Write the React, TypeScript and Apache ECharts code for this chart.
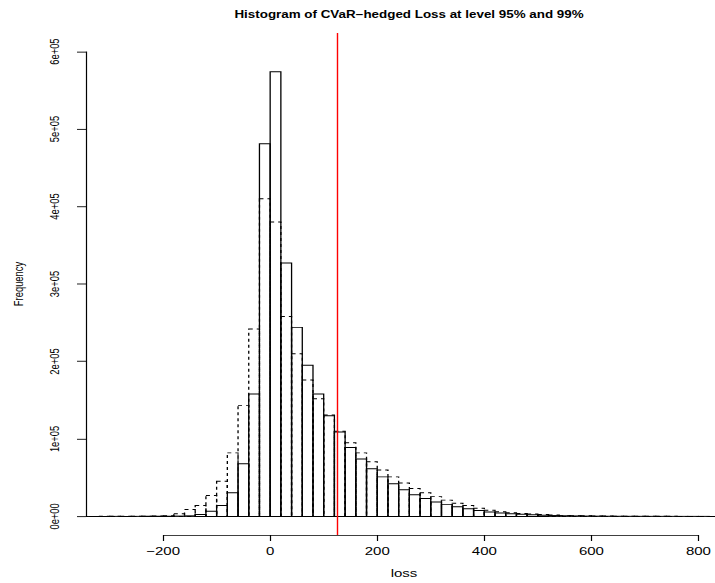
import React, { useEffect, useRef } from "react";
import * as echarts from "echarts";

// Histogram bins (lower edges), width 20
const binStarts = [
  -360, -340, -320, -300, -280, -260, -240, -220, -200, -180, -160, -140, -120, -100, -80, -60, -40, -20,
  0, 20, 40, 60, 80, 100, 120, 140, 160, 180, 200, 220, 240, 260, 280, 300, 320, 340, 360, 380,
  400, 420, 440, 460, 480, 500, 520, 540, 560, 580, 600, 620, 640, 660, 680, 700, 720, 740, 760, 780,
  800, 820, 840,
];
const binWidth = 20;

// Solid histogram counts
const lossA = [
  0, 0, 0, 10, 20, 30, 60, 100, 200, 400, 700, 2500, 6500, 14000, 30500, 68000, 158000, 481000,
  574000, 327000, 244000, 195000, 158000, 130000, 109000, 89000, 74000, 61500, 51000, 42000, 34500, 28000, 23000, 18500, 15500, 12500, 10000, 7500,
  5700, 4500, 3500, 2700, 2000, 1500, 1100, 800, 600, 400, 300, 200, 150, 100, 80, 50, 30, 20, 10, 10,
  5, 0, 0,
];
// Dashed histogram counts
const lossB = [
  0, 20, 40, 60, 100, 150, 250, 500, 1000, 3500, 9000, 14000, 27000, 45500, 82000, 143000, 242000, 410000,
  380000, 258000, 210000, 176000, 152000, 131000, 110000, 95000, 82000, 70500, 60000, 51000, 43000, 36000, 30500, 25500, 21000, 17000, 14000, 10500,
  8000, 6000, 4800, 3800, 3000, 2300, 1800, 1300, 1000, 700, 500, 400, 300, 200, 150, 100, 80, 50, 30, 20,
  10, 10, 0,
];

const xTicks = [-200, 0, 200, 400, 600, 800];
const yTicks = [0, 100000, 200000, 300000, 400000, 500000, 600000];
const xLimits = [-344, 844];
const yLimits = [-24000, 624000];
const cvarLine = 125;

const FONT = "'Liberation Sans', Arial, Helvetica, sans-serif";
const SCALE_Y = 583 / 777;

function fmtX(v: number) {
  return v < 0 ? "\u2212" + Math.abs(v) : String(v);
}
function fmtY(v: number) {
  if (v === 0) return "0e+00";
  const e = Math.floor(Math.log10(v));
  const m = Math.round(v / Math.pow(10, e));
  return `${m}e+${String(e).padStart(2, "0")}`;
}

export default function App() {
  const ref = useRef<HTMLDivElement>(null);
  useEffect(() => {
    const chart = echarts.init(ref.current!, null, { renderer: "svg" });
    const toData = (counts: number[]) => binStarts.map((s, i) => [s, s + binWidth, counts[i]]);
    const renderBar = (dashed: boolean) => (params: any, api: any) => {
      const a = api.coord([api.value(0), 0]);
      const b = api.coord([api.value(1), api.value(2)]);
      return {
        type: "rect",
        shape: { x: a[0], y: b[1], width: b[0] - a[0], height: a[1] - b[1] },
        style: {
          fill: "none",
          stroke: "#000",
          lineWidth: 1.3,
          lineDash: dashed ? [4, 4] : null,
        },
      };
    };
    chart.setOption({
      animation: false,
      backgroundColor: "#fff",
      title: {
        text: "Histogram of CVaR\u2212hedged Loss at level 95% and 99%",
        left: 404,
        top: 7,
        textAlign: "center",
        textStyle: { fontFamily: FONT, fontSize: 13.4, fontWeight: "bold", color: "#000", lineHeight: 15 },
      },
      grid: { left: 86, right: 0, top: 44, bottom: 62.6, containLabel: false },
      xAxis: {
        type: "value",
        min: xLimits[0],
        max: xLimits[1],
        splitLine: { show: false },
        axisLine: { show: false, onZero: false },
        axisTick: { show: true, customValues: xTicks, length: 8, lineStyle: { color: "#000", width: 1.2 } },
        axisLabel: {
          customValues: xTicks,
          formatter: fmtX,
          fontFamily: FONT,
          fontSize: 15,
          lineHeight: 15,
          color: "#000",
          margin: 14,
        },
        name: "loss",
        nameLocation: "middle",
        nameGap: 44,
        nameTextStyle: { fontFamily: FONT, fontSize: 15, lineHeight: 15, color: "#000" },
      },
      yAxis: {
        type: "value",
        min: yLimits[0],
        max: yLimits[1],
        splitLine: { show: false },
        axisLine: { show: false, onZero: false },
        axisTick: { show: true, customValues: yTicks, length: 9, lineStyle: { color: "#000", width: 1 } },
        axisLabel: {
          customValues: yTicks,
          formatter: fmtY,
          rotate: 90,
          fontFamily: FONT,
          fontSize: 12.5,
          lineHeight: 13,
          color: "#000",
          margin: 25,
        },
        name: "Frequency",
        nameLocation: "middle",
        nameRotate: 90,
        nameGap: 61,
        nameTextStyle: { fontFamily: FONT, fontSize: 12.5, lineHeight: 13, color: "#000" },
      },
      series: [
        {
          type: "custom",
          name: "dashed",
          clip: true,
          renderItem: renderBar(true),
          encode: { x: [0, 1], y: 2 },
          data: toData(lossB),
          silent: true,
        },
        {
          type: "custom",
          name: "solid",
          clip: true,
          renderItem: renderBar(false),
          encode: { x: [0, 1], y: 2 },
          data: toData(lossA),
          silent: true,
        },
        {
          type: "line",
          data: [],
          clip: false,
          silent: true,
          markLine: {
            symbol: "none",
            silent: true,
            label: { show: false },
            data: [
              [
                { coord: [xTicks[0], yLimits[0]], lineStyle: { color: "#000", width: 1.2, type: "solid" } },
                { coord: [xTicks[xTicks.length - 1], yLimits[0]] },
              ],
              [
                { coord: [xLimits[0], yTicks[0]], lineStyle: { color: "#000", width: 1.2, type: "solid" } },
                { coord: [xLimits[0], yTicks[yTicks.length - 1]] },
              ],
              { xAxis: cvarLine, lineStyle: { color: "#ff0000", width: 1.4, type: "solid" } },
            ],
          },
        },
      ],
    });
    return () => chart.dispose();
  }, []);
  return (
    <div
      style={{
        position: "fixed",
        left: 0,
        top: 0,
        width: 715,
        height: 583,
        overflow: "hidden",
        background: "#fff",
      }}
    >
      <div
        ref={ref}
        style={{ width: 722, height: 777, transform: `scaleY(${SCALE_Y})`, transformOrigin: "0 0" }}
      />
    </div>
  );
}
